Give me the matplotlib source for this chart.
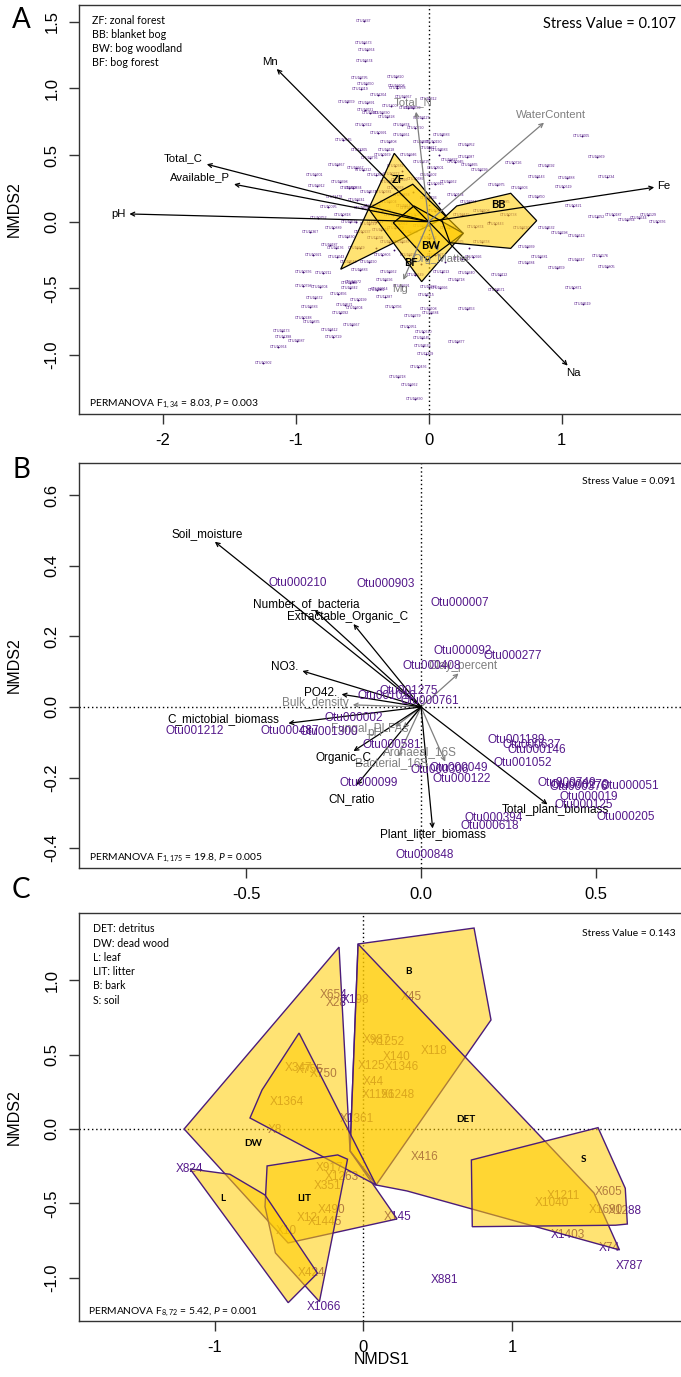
import matplotlib
matplotlib.use("Agg")
import matplotlib.pyplot as plt
from matplotlib.patches import Polygon

plt.rcParams['font.family'] = ['Liberation Sans', 'DejaVu Sans']
plt.rcParams['axes.unicode_minus'] = False
plt.rcParams['mathtext.fontset'] = 'custom'
plt.rcParams['mathtext.rm'] = 'Lato'
plt.rcParams['mathtext.it'] = 'Lato:italic'

W, H = 681, 1377
PURPLE = '#55198B'
HULL_EDGE_C = '#4B1C7A'
FILL = (1.0, 0.80, 0.0, 0.55)
NOTE_FONT = 'Lato'

# ---------------- panel A data ----------------
otu_a_top = [(-0.487, 1.508), (-0.487, 1.343), (-0.464, 1.288), (-0.479, 1.208), (-0.519, 1.076),
             (-0.246, 1.088), (-0.471, 1.033), (-0.241, 1.02), (-0.512, 0.995), (-0.235, 1.0),
             (-0.381, 0.95), (-0.186, 0.938), (-0.464, 0.888), (-0.283, 0.868), (-0.156, 0.851),
             (-0.479, 0.838), (-0.351, 0.813)]
otu_a_left = [(-0.617, 0.9), (-0.441, 0.813), (-0.316, 0.788), (-0.492, 0.725), (-0.203, 0.725),
              (-0.379, 0.663), (-0.642, 0.613), (-0.517, 0.538), (-0.316, 0.538), (-0.441, 0.476),
              (-0.692, 0.425), (-0.492, 0.388), (-0.855, 0.35), (-0.667, 0.3), (-0.842, 0.268),
              (-0.567, 0.25), (-0.705, 0.188), (-0.755, 0.108), (-0.541, 0.163), (-0.83, 0.025),
              (-0.592, 0.0), (-0.717, -0.05), (-0.892, -0.075), (-0.617, -0.112), (-0.742, -0.175),
              (-0.541, -0.2), (-0.868, -0.25), (-0.692, -0.262), (-0.943, -0.375), (-0.792, -0.387),
              (-0.517, -0.362), (-0.817, -0.488), (-0.567, -0.45), (-0.391, -0.512), (-0.329, -0.437)]
otu_a_low = [(-0.943, -0.482), (-0.592, -0.457), (-0.592, -0.5), (-0.366, -0.507), (-0.68, -0.542),
             (-0.855, -0.575), (-0.529, -0.587), (-0.329, -0.562), (-0.892, -0.637), (-0.629, -0.625),
             (-0.554, -0.65), (-0.266, -0.637), (-0.667, -0.687), (-0.943, -0.725), (-0.88, -0.755),
             (-0.579, -0.775), (-0.742, -0.812), (-1.105, -0.82), (-0.717, -0.863), (-1.093, -0.863),
             (-0.992, -0.895), (-1.131, -0.938), (-1.244, -1.062),
             (1.087, -0.5), (1.158, -0.617), (0.0, -0.49), (0.085, -0.497), (-0.02, -0.55),
             (0.286, -0.657), (0.0, -0.657), (0.015, -0.687), (-0.12, -0.71), (-0.153, -0.787),
             (-0.04, -0.83), (-0.053, -0.87), (0.21, -0.9), (-0.045, -0.93), (-0.023, -0.992),
             (-0.078, -1.092), (-0.233, -1.167), (-0.14, -1.223), (-0.103, -1.332)]
otu_a_right = [(1.15, 0.643), (1.263, 0.488), (0.887, 0.418), (0.636, 0.438), (0.812, 0.338),
               (1.038, 0.33), (1.338, 0.333), (0.511, 0.275), (0.686, 0.25), (1.012, 0.258),
               (0.812, 0.188), (1.087, 0.118), (1.388, 0.05), (1.489, 0.013), (1.263, 0.033),
               (0.887, -0.05), (0.987, -0.087), (1.113, -0.107), (0.737, -0.187), (0.837, -0.262),
               (1.288, -0.257), (1.113, -0.287), (1.338, -0.337), (0.962, -0.35), (0.737, -0.312),
               (0.536, -0.4), (0.335, -0.262), (0.511, -0.512), (0.286, -0.387), (0.211, -0.437),
               (0.286, 0.488), (0.311, 0.425), (0.386, 0.388), (0.16, 0.463), (0.085, 0.538),
               (0.035, 0.6), (0.286, 0.575), (1.72, 0.0), (1.58, 0.03), (1.65, 0.05)]
otu_a_core = [(-0.3, 0.6), (-0.2, 0.65), (-0.1, 0.7), (-0.05, 0.6), (0.0, 0.55), (-0.35, 0.5),
              (-0.15, 0.5), (-0.25, 0.42), (-0.05, 0.45), (0.05, 0.4), (-0.4, 0.35), (-0.3, 0.3),
              (-0.1, 0.32), (0.05, 0.28), (0.15, 0.3), (-0.45, 0.22), (-0.2, 0.2), (0.0, 0.18),
              (0.2, 0.2), (0.3, 0.15), (-0.5, 0.1), (-0.35, 0.08), (-0.15, 0.1), (0.05, 0.08),
              (0.25, 0.05), (0.4, 0.08), (-0.45, -0.02), (-0.25, -0.05), (-0.05, -0.03), (0.15, -0.05),
              (0.35, -0.04), (0.5, -0.02), (-0.4, -0.12), (-0.2, -0.15), (0.0, -0.12), (0.2, -0.15),
              (0.4, -0.15), (-0.35, -0.25), (-0.15, -0.25), (0.05, -0.25), (0.25, -0.28), (-0.3, -0.38),
              (-0.1, -0.4), (0.1, -0.38), (-0.2, -0.48), (0.6, 0.05), (0.7, -0.05), (0.55, 0.15),
              (-0.55, 0.4), (-0.6, 0.25), (-0.65, 0.05), (-0.7, -0.2), (-0.6, -0.3), (0.0, 0.35),
              (-0.12, 0.85), (-0.05, 0.78), (0.1, 0.65), (0.2, 0.45), (0.0, 0.92),
              (-0.25, 0.25), (-0.3, 0.15), (-0.4, 0.0), (-0.1, 0.05), (-0.3, -0.15), (-0.45, -0.3),
              (-0.28, 0.36), (-0.22, 0.31), (-0.34, 0.22), (-0.18, 0.12), (-0.27, 0.05), (-0.42, 0.12),
              (-0.5, -0.08), (-0.36, -0.06), (-0.22, -0.02), (-0.14, -0.08), (-0.52, -0.2), (-0.4, -0.2),
              (-0.26, -0.21), (-0.1, -0.18), (-0.55, 0.0), (-0.2, 0.38), (-0.12, 0.22), (0.08, 0.14),
              (0.1, 0.0), (-0.06, -0.32), (0.12, -0.3), (0.3, -0.2), (0.45, 0.0), (0.08, 0.5)]
otu_a_ids = """1837 10673 10664 10674 10795 10820 10650 10608 11119 10258 11204 10667 10891 12007 10987
11021 10330 10559 11062 10428 10312 10874 10991 10545 11305 10118 10776 10467 11212 10601 10398
10912 10834 11478 10095 10241 10752 10516 10889 11367 10430 10187 10619 10921 11043 10376 10211
10883 10604 11172 10531 10296 10798 11066 10342 10914 10456 10672 10199 11287 10783 10521 10604
10356 11092 10248 10835 10967 10412 10173 10729 11398 10587 10664 10302 10871 10519 10232 10996
11115 10453 10708 10384 10279 10951 10620 10145 10877 10533 11309 10476 10218 10662 10830 11005
10369 10592 10726 10143 10488 11234 10975 10303 10619 10850 10421 10187 10764 11052 10532 10298
10613 10939 10381 11176 10247 10805 10459 10684 10112 10926 10571 10340 10718 11087 10465 10299
10837 10583 10190 10952 10376 10644 11129 10408 10261 10790 10533 10817 10169 10946 10382 10725
10501 11200 10347 10689 10915 10262 10574 10838 10493 10134 10761 11046 10320 10659 10897 10415
10208 10742 10569 10986 10331 10874 10443 11158 10287 10612 10935 10378 10806 10154 10527 10790
10262 10649 11013 10391 10738 10220 10585 10967 10433 10818 10176 10544 10902 10359 10127 10583
10945 10312 10768 10204 10611 10839 10455 10190 10372 10926 10681 10148 10503 10894 10237 10718
10562 10983""".split()

# polygons (site hulls) of panel A
hull_a_zf = [(-0.259, 0.513), (0.135, 0.038), (-0.662, -0.357)]
hull_a_bf = [(-0.454, 0.1), (-0.12, 0.281), (0.26, -0.087), (-0.053, -0.45)]
hull_a_bw = [(-0.266, -0.008), (-0.111, 0.118), (0.26, -0.087), (-0.011, -0.289)]
hull_a_bb = [(0.098, 0.013), (0.211, 0.118), (0.617, 0.213), (0.812, 0.008), (0.617, -0.2), (0.16, -0.158)]
group_a_names = ['ZF', 'BB', 'BW', 'BF']
group_a_pos = [(-0.229, 0.318), (0.523, 0.131), (0.017, -0.175), (-0.133, -0.308)]

# fitted vectors of panel A: name, tip, label position
vec_a_black = ['Mn', 'Total_C', 'Available_P', 'pH', 'Fe', 'Na']
vec_a_black_tip = [(-1.143, 1.146), (-1.669, 0.431), (-1.464, 0.281), (-2.251, 0.058), (1.696, 0.258), (1.045, -1.08)]
vec_a_black_lab = [(-1.193, 1.198), (-1.845, 0.476), (-1.72, 0.333), (-2.33, 0.058), (1.764, 0.268), (1.087, -1.137)]
vec_a_grey = ['WaterContent', 'Total_N', 'Mg', 'Org_Matter']
vec_a_grey_tip = [(0.867, 0.743), (-0.095, 0.825), (-0.191, -0.437), (0.07, -0.22)]
vec_a_grey_lab = [(0.92, 0.80), (-0.12, 0.90), (-0.216, -0.507), (0.092, -0.28)]

# ---------------- panel B data ----------------
otu_b_names = ['Otu000210', 'Otu000903', 'Otu000007', 'Otu000092', 'Otu000277', 'Otu000408',
               'Otu001275', 'Otu001016', 'Otu000761', 'Otu000002', 'Otu000487', 'Otu001300',
               'Otu001212', 'Otu000581', 'Otu000099', 'Otu000306', 'Otu000049', 'Otu000122',
               'Otu001189', 'Otu000637', 'Otu000146', 'Otu001052', 'Otu000740', 'Otu000270',
               'Otu000376', 'Otu000051', 'Otu000019', 'Otu000125', 'Otu000205', 'Otu000394',
               'Otu000618', 'Otu000848']
otu_b_x = [-0.352, -0.1, 0.111, 0.118, 0.261, 0.031, -0.034, -0.099, 0.026, -0.193, -0.374, -0.265,
           -0.646, -0.083, -0.151, 0.054, 0.107, 0.116, 0.273, 0.316, 0.331, 0.29, 0.416, 0.454,
           0.449, 0.597, 0.478, 0.464, 0.586, 0.207, 0.197, 0.011]
otu_b_y = [0.35, 0.348, 0.295, 0.159, 0.145, 0.117, 0.045, 0.031, 0.018, -0.03, -0.067, -0.072,
           -0.067, -0.108, -0.214, -0.178, -0.174, -0.205, -0.093, -0.108, -0.122, -0.16, -0.214, -0.221,
           -0.228, -0.224, -0.256, -0.278, -0.311, -0.314, -0.336, -0.419]

vec_b_black = ['Soil_moisture', 'Number_of_bacteria', 'Extractable_Organic_C', 'NO3.', 'PO42.',
               'C_mictobial_biomass', 'Organic_C', 'CN_ratio', 'Plant_litter_biomass', 'Total_plant_biomass']
vec_b_black_tip = [(-0.589, 0.468), (-0.303, 0.273), (-0.193, 0.235), (-0.339, 0.102), (-0.227, 0.036),
                   (-0.379, -0.046), (-0.193, -0.125), (-0.184, -0.221), (0.033, -0.344), (0.361, -0.276)]
vec_b_black_lab = [(-0.612, 0.49), (-0.327, 0.292), (-0.21, 0.256), (-0.389, 0.114), (-0.287, 0.04),
                   (-0.565, -0.034), (-0.222, -0.144), (-0.198, -0.261), (0.034, -0.36), (0.383, -0.292)]
vec_b_grey = ['Bulk_density', 'Fungal_PLFAs', 'pH', 'Archaeal_16S', 'Bacterial_16S', 'Clay_percent']
vec_b_grey_tip = [(-0.195, 0.006), (-0.074, -0.056), (-0.05, -0.06), (0.069, -0.155), (-0.066, -0.141), (0.107, 0.095)]
vec_b_grey_lab = [(-0.303, 0.01), (-0.146, -0.063), (-0.131, -0.075), (-0.003, -0.127), (-0.084, -0.16), (0.121, 0.117)]

# ---------------- panel C data ----------------
site_c_names = ['X654', 'X28', 'X198', 'X45', 'X987', 'X1252', 'X140', 'X1346', 'X118', 'X125', 'X44',
                'X1196', 'X1248', 'X1361', 'X416', 'X347', 'X755', 'X750', 'X1364', 'X8', 'X917',
                'X1263', 'X351', 'X490', 'X12', 'X1445', 'X10', 'X424', 'X1066', 'X145', 'X824',
                'X881', 'X1040', 'X1211', 'X605', 'X1690', 'X1288', 'X1403', 'X74', 'X787']
site_c_x = [-0.198, -0.18, -0.056, 0.32, 0.085, 0.167, 0.224, 0.258, 0.475, 0.056, 0.063,
            0.098, 0.229, -0.042, 0.412, -0.438, -0.359, -0.27, -0.518, -0.592, -0.23,
            -0.147, -0.243, -0.212, -0.375, -0.256, -0.518, -0.348, -0.264, 0.229, -1.169,
            0.543, 1.269, 1.342, 1.652, 1.631, 1.759, 1.376, 1.656, 1.787]
site_c_y = [0.899, 0.844, 0.866, 0.888, 0.597, 0.586, 0.481, 0.418, 0.526, 0.423, 0.313,
            0.228, 0.228, 0.067, -0.186, 0.411, 0.396, 0.367, 0.183, -0.007, -0.264,
            -0.32, -0.383, -0.544, -0.599, -0.626, -0.683, -0.968, -1.193, -0.589, -0.268,
            -1.013, -0.495, -0.448, -0.421, -0.544, -0.55, -0.713, -0.797, -0.919]

hull_c_b = [(-0.036, 1.242), (0.744, 1.349), (0.858, 0.732), (0.085, -0.376), (-0.09, -0.148)]
hull_c_det = [(-0.036, 1.242), (1.551, -0.43), (1.722, -0.812), (0.293, -0.416), (0.085, -0.376), (-0.09, -0.148)]
hull_c_dw = [(-1.206, 0.0), (-0.164, 1.221), (-0.09, -0.148), (0.226, -0.604), (-0.507, -0.765)]
hull_c_x = [(-0.433, 0.644), (-0.238, 0.262), (0.085, -0.376), (-0.763, 0.074), (-0.682, 0.262)]
hull_c_lit = [(-0.648, -0.248), (-0.173, -0.174), (-0.107, -0.203), (-0.204, -0.698), (-0.296, -1.159),
              (-0.592, -0.832), (-0.662, -0.521)]
hull_c_l = [(-1.166, -0.268), (-0.898, -0.304), (-0.662, -0.443), (-0.309, -0.968), (-0.506, -1.166)]
hull_c_s = [(0.726, -0.208), (1.578, 0.009), (1.761, -0.398), (1.775, -0.638), (1.696, -0.646), (0.732, -0.656)]
group_c_names = ['B', 'DET', 'DW', 'S', 'L', 'LIT']
group_c_pos = [(0.302, 1.056), (0.687, 0.065), (-0.741, -0.096), (1.481, -0.208), (-0.946, -0.465), (-0.395, -0.465)]

legend_a = ['ZF: zonal forest', 'BB: blanket bog', 'BW: bog woodland', 'BF: bog forest']
legend_c = ['DET: detritus', 'DW: dead wood', 'L: leaf', 'LIT: litter', 'B: bark', 'S: soil']


def px_axes(top, bottom, left=79, right=684):
    return [left / W, 1 - bottom / H, (right - left) / W, (bottom - top) / H]


def style_axes(ax, xt, xl, yt, yl):
    for s in ax.spines.values():
        s.set_linewidth(1.0)
        s.set_color('#333333')
    ax.set_xticks(xt)
    ax.set_xticklabels(xl, fontsize=12)
    ax.set_yticks(yt)
    ax.set_yticklabels(yl, fontsize=12, rotation=90, va='center')
    ax.tick_params(length=7, width=1, color='#333333', pad=7)
    ax.set_ylabel('NMDS2', fontsize=11.5)
    ax.yaxis.set_label_coords(-0.094, 0.5)


def arrow(ax, tip, color):
    ax.annotate('', xy=tip, xytext=(0, 0),
                arrowprops=dict(arrowstyle='->', color=color, lw=0.9, shrinkA=0, shrinkB=0,
                                mutation_scale=7), zorder=4)


fig = plt.figure(figsize=(W / 100, H / 100), dpi=100)

# ---------------- A ----------------
axA = fig.add_axes(px_axes(5, 414))
axA.set_xlim(-2.63, 1.92)
axA.set_ylim(-1.443, 1.626)
axA.axvline(0, color='black', lw=1, ls=(0, (1, 2)), zorder=1)
pts = otu_a_top + otu_a_left + otu_a_low + otu_a_right + otu_a_core
for (x, y), i in zip(pts, otu_a_ids):
    axA.text(x, y, 'OTU' + i, fontsize=2.6, color=PURPLE, ha='center', va='center', zorder=1)
axA.scatter([p[0] for p in pts], [p[1] for p in pts], s=1.8, color='#3A0A6A', lw=0, zorder=1)
for hull in [hull_a_zf, hull_a_bf, hull_a_bw, hull_a_bb]:
    axA.add_patch(Polygon(hull, closed=True, facecolor=FILL, edgecolor='black', lw=0.9, zorder=2))
for n, t, l in zip(vec_a_black, vec_a_black_tip, vec_a_black_lab):
    arrow(axA, t, 'black')
    axA.text(l[0], l[1], n, fontsize=8.2, ha='center', va='center', zorder=5)
for n, t, l in zip(vec_a_grey, vec_a_grey_tip, vec_a_grey_lab):
    arrow(axA, t, '#7f7f7f')
    axA.text(l[0], l[1], n, fontsize=8.2, color='#7f7f7f', ha='center', va='center', zorder=5)
for n, p in zip(group_a_names, group_a_pos):
    axA.text(p[0], p[1], n, fontsize=8, fontweight='bold', ha='center', va='center', zorder=6,
             family=NOTE_FONT)
style_axes(axA, [-2, -1, 0, 1], ['-2', '-1', '0', '1'],
           [-1, -0.5, 0, 0.5, 1, 1.5], ['-1.0', '-0.5', '0.0', '0.5', '1.0', '1.5'])

# ---------------- B ----------------
axB = fig.add_axes(px_axes(463, 868))
axB.set_xlim(-0.977, 0.751)
axB.set_ylim(-0.456, 0.691)
axB.axvline(0, color='black', lw=1, ls=(0, (1, 2)), zorder=1)
axB.axhline(0, color='black', lw=1, ls=(0, (1, 2)), zorder=1)
for n, t, l in zip(vec_b_grey, vec_b_grey_tip, vec_b_grey_lab):
    arrow(axB, t, '#7f7f7f')
    axB.text(l[0], l[1], n, fontsize=8.5, color='#7f7f7f', ha='center', va='center', zorder=5)
for n, t, l in zip(vec_b_black, vec_b_black_tip, vec_b_black_lab):
    arrow(axB, t, 'black')
    axB.text(l[0], l[1], n, fontsize=8.5, ha='center', va='center', zorder=5)
for n, x, y in zip(otu_b_names, otu_b_x, otu_b_y):
    axB.text(x, y, n, fontsize=8.5, color=PURPLE, ha='center', va='center', zorder=6)
style_axes(axB, [-0.5, 0, 0.5], ['-0.5', '0.0', '0.5'],
           [-0.4, -0.2, 0, 0.2, 0.4, 0.6], ['-0.4', '-0.2', '0.0', '0.2', '0.4', '0.6'])

# ---------------- C ----------------
axC = fig.add_axes(px_axes(913, 1321))
axC.set_xlim(-1.913, 2.156)
axC.set_ylim(-1.289, 1.45)
axC.axvline(0, color='black', lw=1, ls=(0, (1, 2)), zorder=1)
axC.axhline(0, color='black', lw=1, ls=(0, (1, 2)), zorder=1)
for n, x, y in zip(site_c_names, site_c_x, site_c_y):
    axC.text(x, y, n, fontsize=8.5, color=PURPLE, ha='center', va='center', zorder=1)
for hull in [hull_c_b, hull_c_det, hull_c_dw, hull_c_x, hull_c_lit, hull_c_l, hull_c_s]:
    axC.add_patch(Polygon(hull, closed=True, facecolor=FILL, edgecolor=HULL_EDGE_C, lw=1, zorder=2))
for n, p in zip(group_c_names, group_c_pos):
    axC.text(p[0], p[1], n, fontsize=7.2, fontweight='bold', ha='center', va='center', zorder=6,
             family=NOTE_FONT)
style_axes(axC, [-1, 0, 1], ['-1', '0', '1'],
           [-1, -0.5, 0, 0.5, 1], ['-1.0', '-0.5', '0.0', '0.5', '1.0'])
axC.set_xlabel('NMDS1', fontsize=11.5)
axC.xaxis.set_label_coords(0.5, -0.075)

# ---------------- annotations ----------------
def ftext(x, y, s, **kw):
    fig.text(x / W, 1 - y / H, s, **kw)


for letter, y in zip(['A', 'B', 'C'], [20, 470, 890]):
    ftext(21, y, letter, fontsize=20, ha='center', va='center', family=NOTE_FONT)
for i, s in enumerate(legend_a):
    ftext(92, 20 + 14 * i, s, fontsize=7.7, va='center', family=NOTE_FONT)
for i, s in enumerate(legend_c):
    ftext(93, 929 + 14.2 * i, s, fontsize=7.6, va='center', family=NOTE_FONT)
ftext(676, 24, 'Stress Value = 0.107', fontsize=10.5, ha='right', va='center', family=NOTE_FONT)
ftext(676, 482, 'Stress Value = 0.091', fontsize=7.5, ha='right', va='center', family=NOTE_FONT)
ftext(676, 933, 'Stress Value = 0.143', fontsize=7.5, ha='right', va='center', family=NOTE_FONT)
ftext(89, 404, r'PERMANOVA F$_{1,34}$ = 8.03, $P$ = 0.003', fontsize=7.4, va='center', family=NOTE_FONT)
ftext(89, 858, r'PERMANOVA F$_{1,175}$ = 19.8, $P$ = 0.005', fontsize=7.4, va='center', family=NOTE_FONT)
ftext(88, 1312, r'PERMANOVA F$_{8,72}$ = 5.42, $P$ = 0.001', fontsize=7.4, va='center', family=NOTE_FONT)

fig.savefig('out.png', dpi=100)
